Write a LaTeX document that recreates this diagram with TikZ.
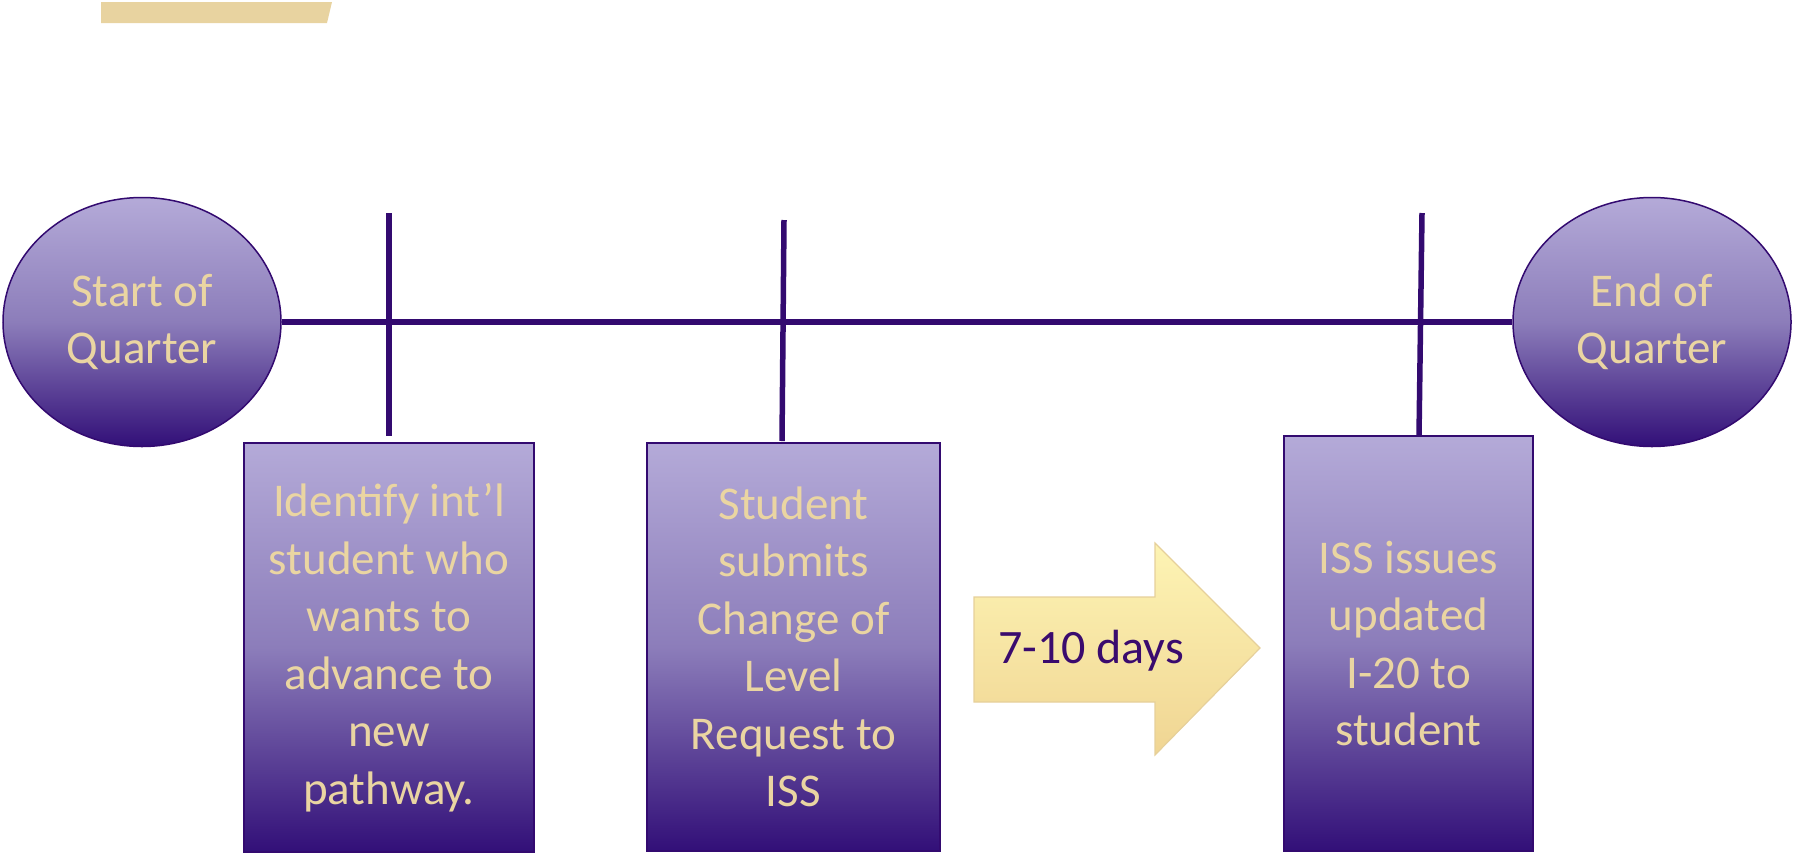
\documentclass[tikz,border=0pt]{standalone}
\usepackage{fontspec}
\setmainfont{Carlito}
\usetikzlibrary{shapes.geometric}
\definecolor{lavtop}{HTML}{B4AAD8}
\definecolor{lavmid}{HTML}{8C7DBA}
\definecolor{lavbot}{HTML}{320F78}
\definecolor{edgepurple}{HTML}{330A70}
\definecolor{tantext}{HTML}{EAD5A2}
\definecolor{tanbar}{HTML}{E8D3A0}
\definecolor{arrtop}{HTML}{FDF4B4}
\definecolor{arrbot}{HTML}{F0D593}
\definecolor{arredge}{HTML}{E6D09A}
\definecolor{daytext}{HTML}{3A0B6E}
\tikzset{
  bigtext/.style={font=\fontsize{47}{57.5}\selectfont, text=tantext, align=center},
  stepbox/.style={rectangle, draw=edgepurple, line width=1.5pt, top color=lavtop, bottom color=lavbot, middle color=lavmid, inner sep=0pt, bigtext},
  endoval/.style={ellipse, draw=edgepurple, line width=1.5pt, top color=lavtop, bottom color=lavbot, middle color=lavmid, inner sep=0pt, minimum width=278, minimum height=249, bigtext},
  timeline/.style={draw=edgepurple, line width=5.5pt}
}
\begin{document}
\begin{tikzpicture}[x=1pt,y=-1pt]
\useasboundingbox (0,0) rectangle (1795,855);
% decorative tan bar
\fill[tanbar] (101,2) -- (332,2) -- (327,23) -- (101,23) -- cycle;

% end ovals
\node[endoval] (start) at (142,322) {Start of\\Quarter};
\node[endoval] (end) at (1652,322) {End of\\Quarter};

% timeline
\draw[timeline] (start) -- (end);

% step boxes
\node[stepbox, minimum width=290, minimum height=409] (b1) at (389,647.5)
  {Identify int’l\\student who\\wants to\\advance to\\new\\pathway.};
\node[stepbox, minimum width=293, minimum height=408] (b2) at (793.5,647)
  {Student\\submits\\Change of\\Level\\Request to\\ISS};
\node[stepbox, minimum width=249, minimum height=415] (b3) at (1408.5,643.5)
  {ISS issues\\updated\\I-20 to\\student};

% ticks
\coordinate (t1a) at (389,213);
\coordinate (t1b) at (389,436);
\coordinate (t2a) at (784,220);
\coordinate (t2b) at (782,441);
\coordinate (t3a) at (1422,213);
\coordinate (t3b) at (1419,436);
\draw[timeline] (t1a) -- (t1b);
\draw[timeline] (t2a) -- (t2b);
\draw[timeline] (t3a) -- (t3b);

% arrow
\draw[draw=arredge, line width=1.2pt, top color=arrtop, bottom color=arrbot]
  (974,597) -- (1155,597) -- (1155,543) -- (1260,648) -- (1155,755) -- (1155,702) -- (974,702) -- cycle;
\node[font=\fontsize{48}{57}\selectfont, text=daytext] (days) at (1091,651) {7-10 days};
\end{tikzpicture}
\end{document}
